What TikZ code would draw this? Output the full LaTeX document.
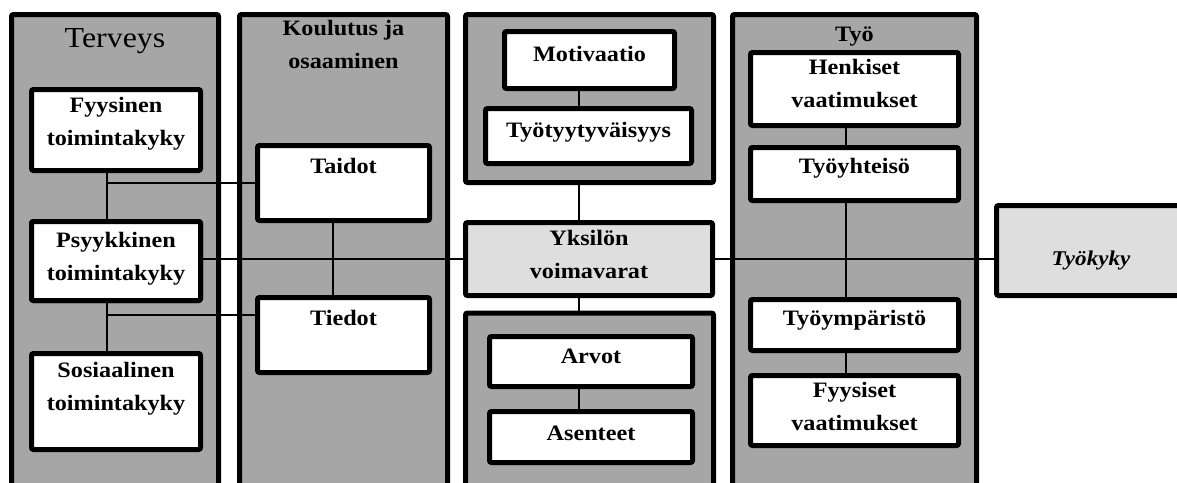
\documentclass[tikz,border=0pt]{standalone}
\usepackage{fontspec}
\setmainfont{Liberation Serif}[FakeStretch=1.1]
\definecolor{colgray}{HTML}{A6A6A6}
\definecolor{lightgray}{HTML}{DEDEDE}
\tikzset{
  column/.style={draw=black, line width=5pt, fill=colgray, rounded corners=2pt, inner sep=0pt},
  inbox/.style={draw=black, line width=5pt, fill=white, rounded corners=2pt, inner sep=0pt},
  keybox/.style={draw=black, line width=5pt, fill=lightgray, rounded corners=2pt, inner sep=0pt},
  lbl/.style={anchor=base, align=center, inner sep=0pt, font=\fontsize{22}{33}\selectfont\bfseries},
  conn/.style={draw=black, line width=1.5pt}
}
\begin{document}
\begin{tikzpicture}[x=1pt,y=-1pt]
\useasboundingbox[fill=white] (0,0) rectangle (1177,482);
% columns
\node[column, minimum width=207, minimum height=493] (c1) at (115,261) {};
\node[column, minimum width=208, minimum height=493] (c2) at (343.5,261) {};
\node[column, minimum width=248, minimum height=168] (c3a) at (589.5,98.5) {};
\node[column, minimum width=248, minimum height=192] (c3b) at (589.5,409) {};
\node[column, minimum width=244, minimum height=493] (c4) at (854.5,261) {};
% coordinates for connector positions
\coordinate (x1) at (107,0);
\coordinate (x2) at (333,0);
\coordinate (x3) at (579,0);
\coordinate (x4) at (846,0);
\coordinate (j1) at (107,183);
\coordinate (j2) at (107,315);
% inner boxes
\node[inbox, minimum width=169, minimum height=81] (fyy) at (116,130) {};
\node[inbox, minimum width=169, minimum height=79] (psy) at (116,261) {};
\node[inbox, minimum width=169, minimum height=96] (sos) at (116,401.5) {};
\node[inbox, minimum width=172, minimum height=75] (taidot) at (343.5,183) {};
\node[inbox, minimum width=172, minimum height=75] (tiedot) at (343.5,335) {};
\node[inbox, minimum width=170, minimum height=57] (mot) at (589.5,60) {};
\node[inbox, minimum width=206, minimum height=55] (tyyt) at (588.5,136) {};
\node[keybox, minimum width=247, minimum height=73] (yks) at (589,259) {};
\node[inbox, minimum width=203, minimum height=50] (arvot) at (591,361.5) {};
\node[inbox, minimum width=203, minimum height=51] (asen) at (591,437) {};
\node[inbox, minimum width=208, minimum height=73] (henk) at (854.5,89) {};
\node[inbox, minimum width=208, minimum height=53] (yht) at (854.5,174) {};
\node[inbox, minimum width=208, minimum height=51] (ymp) at (854.5,325) {};
\node[inbox, minimum width=208, minimum height=70] (fyys) at (854.5,410.5) {};
\node[keybox, minimum width=189, minimum height=90] (tk) at (1091,250.5) {};
% connectors
\draw[conn] (fyy.south -| x1) -- (psy.north -| x1);
\draw[conn] (psy.south -| x1) -- (sos.north -| x1);
\draw[conn] (j1) -- (j1 -| taidot.west);
\draw[conn] (j2) -- (j2 -| tiedot.west);
\draw[conn] (taidot.south -| x2) -- (tiedot.north -| x2);
\draw[conn] (psy.east |- yks.west) -- (yks.west);
\draw[conn] (yks.east) -- (yks.east -| tk.west);
\draw[conn] (mot.south -| x3) -- (tyyt.north -| x3);
\draw[conn] (c3a.south -| x3) -- (yks.north -| x3);
\draw[conn] (yks.south -| x3) -- (c3b.north -| x3);
\draw[conn] (arvot.south -| x3) -- (asen.north -| x3);
\draw[conn] (henk.south -| x4) -- (yht.north -| x4);
\draw[conn] (yht.south -| x4) -- (ymp.north -| x4);
\draw[conn] (ymp.south -| x4) -- (fyys.north -| x4);
% redraw boxes crossed by the main line on top
\node[inbox, minimum width=169, minimum height=79] at (116,261) {};
% labels
\node[anchor=base, inner sep=0pt, font=\fontsize{29}{33}\selectfont] (l1) at (115,47) {Terveys};
\node[lbl] (l2) at (343.5,68) {Koulutus ja\\osaaminen};
\node[lbl] (l3) at (116,145) {Fyysinen\\toimintakyky};
\node[lbl] (l4) at (116,280) {Psyykkinen\\toimintakyky};
\node[lbl] (l5) at (116,410) {Sosiaalinen\\toimintakyky};
\node[lbl] (l6) at (343.5,173) {Taidot};
\node[lbl] (l7) at (343.5,325) {Tiedot};
\node[lbl] (l8) at (589.5,61) {Motivaatio};
\node[lbl] (l9) at (588.5,137) {Työtyytyväisyys};
\node[lbl] (l10) at (589,278) {Yksilön\\voimavarat};
\node[lbl] (l11) at (591,363) {Arvot};
\node[lbl] (l12) at (591,440) {Asenteet};
\node[lbl] (l13) at (854.5,41) {Työ};
\node[lbl] (l14) at (854.5,107) {Henkiset\\vaatimukset};
\node[lbl] (l15) at (854.5,173) {Työyhteisö};
\node[lbl] (l16) at (854.5,325) {Työympäristö};
\node[lbl] (l17) at (854.5,430) {Fyysiset\\vaatimukset};
\node[lbl, font=\fontsize{21}{33}\selectfont\bfseries\itshape] (l18) at (1091,265) {Työkyky};
\end{tikzpicture}
\end{document}
